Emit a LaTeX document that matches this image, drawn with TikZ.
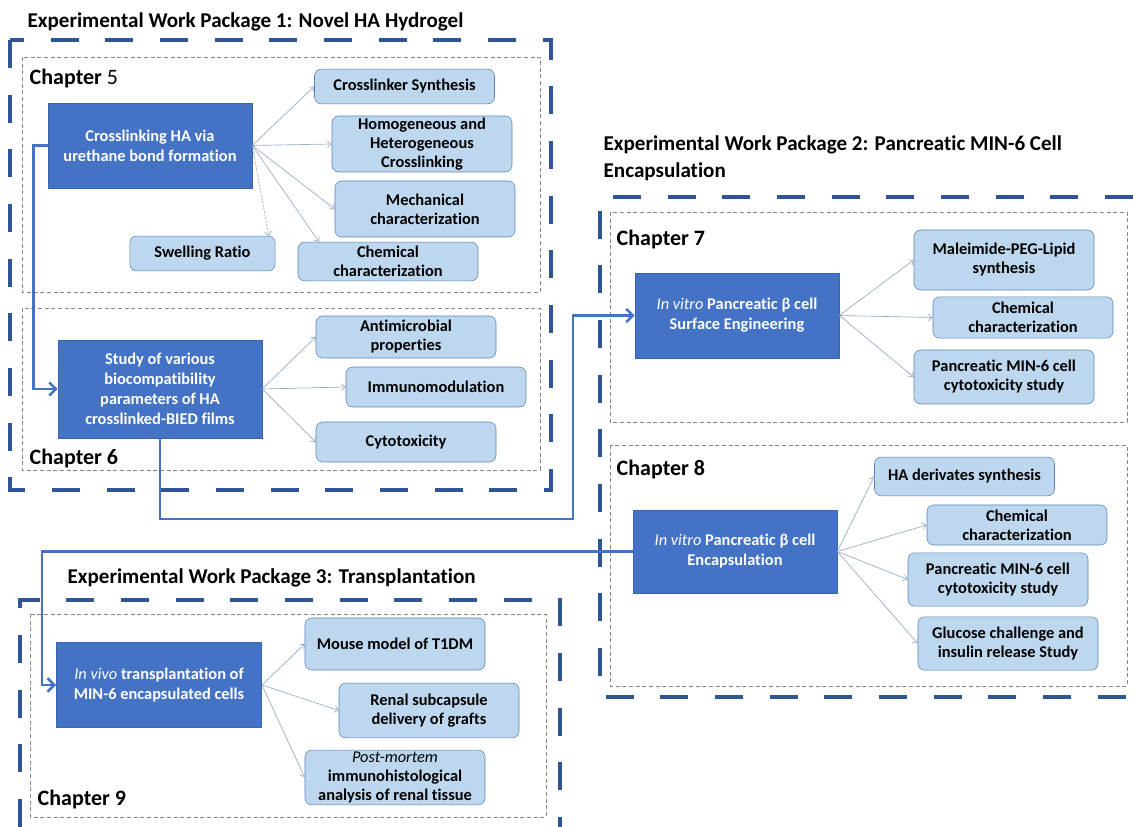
\documentclass[tikz,border=0pt]{standalone}
\usepackage{fontspec}
\setmainfont{Carlito}[Ligatures=NoCommon]
\usetikzlibrary{arrows.meta,positioning}
\definecolor{wpblue}{HTML}{2F5597}
\definecolor{mainfill}{HTML}{4472C4}
\definecolor{mainline}{HTML}{3B65B0}
\definecolor{subfill}{HTML}{BDD7EE}
\definecolor{subline}{HTML}{5A82B4}
\definecolor{feedline}{HTML}{97A9C4}
\definecolor{chapline}{HTML}{858585}

\tikzset{
 mainbox/.style={draw=mainline,fill=mainfill,text=white,align=center,
   font=\bfseries\fontsize{12.3}{15}\selectfont,minimum width=153pt,inner sep=2pt},
 subbox/.style={draw=subline,fill=subfill,rounded corners=5pt,align=center,
   font=\bfseries\fontsize{12.3}{14.3}\selectfont,minimum width=135pt,inner sep=0.5pt},
 wpframe/.style={wpblue,line width=2.3pt,dash pattern=on 21pt off 20pt},
 chapframe/.style={chapline,line width=0.5pt,dash pattern=on 3pt off 2pt},
 link/.style={mainfill,line width=1.9pt,-{Straight Barb[length=5pt,width=10pt,line width=1.9pt]}},
 feed/.style={feedline,line width=0.5pt,-{Straight Barb[length=3pt,width=5pt]}},
 chaplabel/.style={anchor=west,font=\bfseries\fontsize{16.5}{18}\selectfont},
 wptitle/.style={anchor=west,align=left,font=\bfseries\fontsize{15.8}{20.3}\selectfont}
}

\begin{document}
\begin{tikzpicture}[x=0.75pt,y=-0.75pt]
\useasboundingbox (0,0) rectangle (1133,827);
% work package frames
\draw[wpframe] (10,40) rectangle (551,490);
\draw[wpframe] (1133,197) -- (600,197) -- (600,697) -- (1133,697);
\draw[wpframe] (20,827) -- (20,600) -- (560,600) -- (560,827);
\node[wptitle] (wp1) at (23,22) {Experimental Work Package 1: Novel HA Hydrogel};
\node[wptitle,anchor=north west] (wp2) at (599,131) {Experimental Work Package 2: Pancreatic MIN-6 Cell\\Encapsulation};
\node[wptitle] (wp3) at (63,578) {Experimental Work Package 3: Transplantation};
% chapter frames
\draw[chapframe] (22,57) rectangle (540,292);
\draw[chapframe] (22,308) rectangle (540,470);
\draw[chapframe] (610,212) rectangle (1127,422);
\draw[chapframe] (610,445) rectangle (1127,686);
\draw[chapframe] (30,614) rectangle (546,817);
\node[chaplabel] (ch5) at (25,79) {Chapter {\mdseries 5}};
\node[chaplabel] (ch6) at (25,459) {Chapter 6};
\node[chaplabel] (ch7) at (612,240) {Chapter 7};
\node[chaplabel] (ch8) at (612,470) {Chapter 8};
\node[chaplabel] (ch9) at (33,800) {Chapter 9};

% chapter 5
\node[mainbox,minimum height=63.75pt] (cross) at (150,145.5) {Crosslinking HA via\\urethane bond formation};
\node[subbox,minimum height=26pt] (synth) at (404.5,86.5) {Crosslinker Synthesis};
\node[subbox,minimum height=42pt] (homo) at (422,144) {Homogeneous and\\Heterogeneous\\Crosslinking};
\node[subbox,minimum height=42pt] (mech) at (425,209) {Mechanical\\characterization};
\node[subbox,minimum height=29pt] (chem5) at (388,261.5) {Chemical\\characterization};
\node[subbox,minimum height=26pt,minimum width=109pt] (swell) at (202.5,253.5) {Swelling Ratio};
\draw[feed] (cross.east) -- (synth.west);
\draw[feed] (cross.east) -- (homo.west);
\draw[feed] (cross.east) -- (mech.west);
\draw[feed] (cross.east) -- ([xshift=16pt]chem5.north west);
\draw[feed,dash pattern=on 1.5pt off 1pt] (cross.east) -- ([xshift=-5pt]swell.north east);

% chapter 6
\node[mainbox,minimum height=73.5pt] (bio) at (160,389) {Study of various\\biocompatibility\\parameters of HA\\crosslinked-BIED films};
\node[subbox,minimum height=31.5pt] (anti) at (406,337) {Antimicrobial\\properties};
\node[subbox,minimum height=30pt] (immuno) at (436,387) {Immunomodulation};
\node[subbox,minimum height=30pt] (cyto6) at (406,442) {Cytotoxicity};
\draw[feed] (bio.east) -- (anti.west);
\draw[feed] (bio.east) -- (immuno.west);
\draw[feed] (bio.east) -- (cyto6.west);

% chapter 7
\node[mainbox,minimum height=63.75pt] (surf) at (737,315.5) {{\mdseries\itshape In vitro} Pancreatic β cell\\Surface Engineering};
\node[subbox,minimum height=45pt] (peg) at (1004,260) {Maleimide-PEG-Lipid\\synthesis};
\node[subbox,minimum height=31pt] (chem7) at (1023,317.5) {Chemical\\characterization};
\node[subbox,minimum height=40.5pt] (cyto7) at (1004,377) {Pancreatic MIN-6 cell\\cytotoxicity study};
\draw[feed] (surf.east) -- (peg.west);
\draw[feed] (surf.east) -- (chem7.west);
\draw[feed] (surf.east) -- (cyto7.west);

% chapter 8
\node[mainbox,minimum height=62pt] (encap) at (735,551.5) {{\mdseries\itshape In vitro} Pancreatic β cell\\Encapsulation};
\node[subbox,minimum height=29pt] (deriv) at (964.5,476.5) {HA derivates synthesis};
\node[subbox,minimum height=30pt] (chem8) at (1017,525) {Chemical\\characterization};
\node[subbox,minimum height=40pt] (cyto8) at (998,579.5) {Pancreatic MIN-6 cell\\cytotoxicity study};
\node[subbox,minimum height=40pt] (gluc) at (1008,643.5) {Glucose challenge and\\insulin release Study};
\draw[feed] (encap.east) -- (deriv.west);
\draw[feed] (encap.east) -- (chem8.west);
\draw[feed] (encap.east) -- (cyto8.west);
\draw[feed] (encap.east) -- (gluc.west);

% chapter 9
\node[mainbox,minimum height=64pt,minimum width=154pt] (vivo) at (159,685) {{\mdseries\itshape In vivo} transplantation of\\MIN-6 encapsulated cells};
\node[subbox,minimum height=39pt] (mouse) at (395,644) {Mouse model of T1DM};
\node[subbox,minimum height=41pt] (renal) at (429,710.5) {Renal subcapsule\\delivery of grafts};
\node[subbox,minimum height=41pt] (histo) at (395,777.5) {{\mdseries\itshape Post-mortem}\\immunohistological\\analysis of renal tissue};
\draw[feed] (vivo.east) -- (mouse.west);
\draw[feed] (vivo.east) -- (renal.west);
\draw[feed] (vivo.east) -- (histo.west);

% links between chapters
\coordinate (turn2) at (573,519);
\draw[link] (cross.west) -- ++(-14,0) |- (bio.west);
\draw[link] (bio.south) |- (turn2) |- (surf.west);
\draw[link] (encap.west) -| ([xshift=-10.5pt]vivo.west) -- (vivo.west);
\end{tikzpicture}
\end{document}
